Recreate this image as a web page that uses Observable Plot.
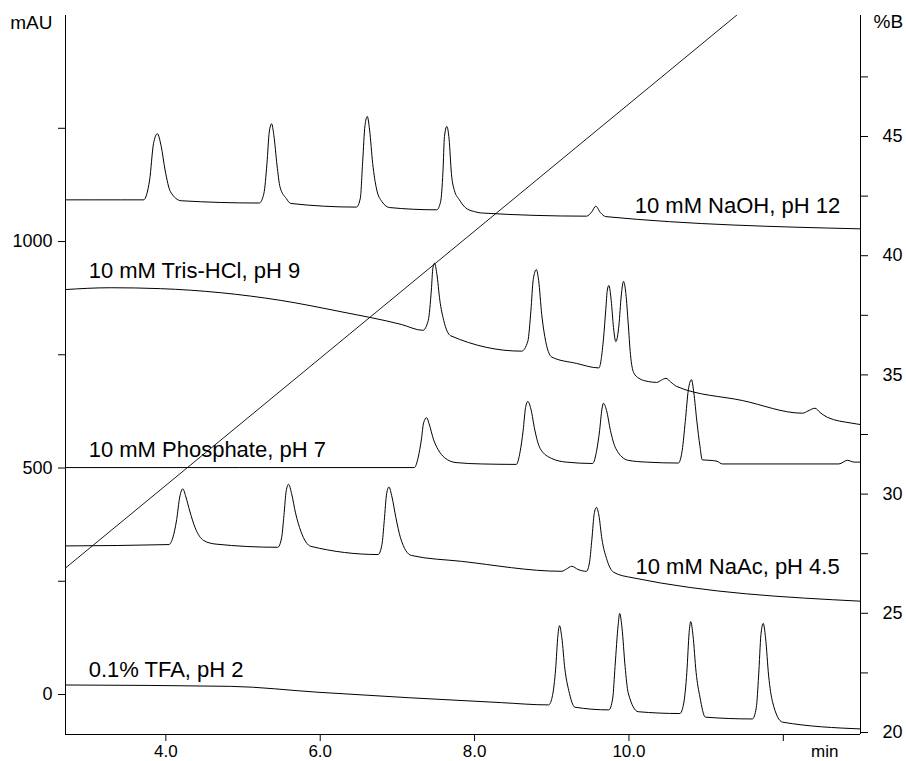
<!DOCTYPE html>
<html><head><meta charset="utf-8">
<script src="https://cdn.jsdelivr.net/npm/d3@7"></script>
<script src="https://cdn.jsdelivr.net/npm/@observablehq/plot@0.6"></script>
<style>body{margin:0;background:#fff}</style>
</head><body><div id="chart"></div>
<script>
// ---- data: [time (min), absorbance (mAU)] ----
const naoh = [[2.70,1092],[3.41,1092],[3.71,1092],[3.79,1136],[3.84,1216],[3.89,1238],[3.94,1210],[3.99,1158],[4.06,1110],[4.20,1090],
  [5.21,1085],[5.27,1106],[5.31,1172],[5.34,1242],[5.37,1260],[5.40,1234],[5.44,1169],[5.48,1120],[5.56,1095],[5.62,1084],
  [6.47,1076],[6.52,1096],[6.55,1176],[6.58,1256],[6.61,1276],[6.64,1246],[6.68,1172],[6.73,1116],[6.80,1088],[6.90,1075],
  [7.51,1070],[7.56,1088],[7.59,1153],[7.61,1232],[7.64,1254],[7.67,1226],[7.70,1150],[7.74,1112],[7.80,1093],[7.88,1075],[8.00,1066],[8.09,1063],
  [9.45,1056],[9.52,1066],[9.57,1078],[9.63,1064],[9.70,1055],[13.0,1028]];
const tris = [[2.70,894],[3.28,898],[3.93,896],[4.71,887],[5.49,870],[6.27,845],[7.05,817],[7.33,804],
  [7.40,826],[7.44,893],[7.46,942],[7.48,952],[7.51,930],[7.55,870],[7.60,826],[7.69,792],
  [8.61,758],[8.69,780],[8.73,848],[8.76,916],[8.80,938],[8.83,914],[8.87,839],[8.91,790],[9.00,745],[9.32,731],[9.61,721],
  [9.67,785],[9.70,850],[9.72,893],[9.74,903],[9.77,870],[9.80,810],[9.83,779],[9.87,815],[9.90,880],[9.93,912],[9.96,885],[9.99,820],[10.02,750],[10.06,711],[10.13,698],[10.25,691],
  [10.36,689],[10.42,694],[10.48,698],[10.54,690],[10.62,680],[11.47,649],[12.25,621],[12.32,626],[12.41,632],[12.48,622],[12.57,612],[12.89,599],[13.0,596]];
const phosphate = [[2.70,501],[7.22,501],[7.27,524],[7.31,562],[7.34,600],[7.38,611],[7.41,598],[7.47,562],[7.53,540],[7.61,523],[7.76,512],[8.09,509],[8.54,508],
  [8.59,536],[8.63,584],[8.66,633],[8.69,647],[8.73,630],[8.78,584],[8.85,543],[9.00,521],[9.19,513],[9.53,510],
  [9.58,537],[9.62,583],[9.65,630],[9.67,643],[9.71,627],[9.76,583],[9.83,543],[9.99,517],[10.23,513],[10.64,511],
  [10.69,539],[10.73,603],[10.77,673],[10.81,695],[10.84,667],[10.88,603],[10.92,548],[10.95,518],[11.05,517],[11.14,515],[11.21,509],[12.72,509],[12.83,517],[12.92,513],[13.0,513]];
const naac = [[2.70,328],[4.04,331],[4.09,346],[4.14,386],[4.18,436],[4.22,454],[4.26,436],[4.31,405],[4.38,368],[4.49,340],[4.65,332],[5.45,325],
  [5.50,346],[5.53,395],[5.56,450],[5.59,464],[5.63,443],[5.68,401],[5.75,360],[5.88,327],[6.75,309],
  [6.80,331],[6.83,384],[6.86,443],[6.89,458],[6.93,436],[6.98,391],[7.04,346],[7.18,307],[7.83,294],
  [9.13,272],[9.19,277],[9.26,283],[9.34,276],[9.45,272],
  [9.49,293],[9.52,343],[9.55,399],[9.58,413],[9.61,396],[9.65,343],[9.71,300],[9.80,270],[10.04,258],[13.0,206]];
const tfa = [[2.70,21],[4.84,18],[5.97,5],[8.35,-18],[8.96,-23],
  [9.01,-2],[9.05,56],[9.08,131],[9.10,152],[9.13,126],[9.17,56],[9.22,9],[9.30,-28],[9.74,-34],
  [9.79,-8],[9.82,62],[9.86,153],[9.88,179],[9.91,147],[9.95,62],[9.99,4],[10.12,-38],[10.66,-42],
  [10.71,-19],[10.75,49],[10.78,137],[10.80,161],[10.83,130],[10.87,49],[10.92,-6],[10.99,-50],[11.60,-54],
  [11.65,-29],[11.68,41],[11.71,132],[11.74,157],[11.77,125],[11.81,41],[11.86,-16],[11.99,-61],[13.0,-76]];
// gradient: [time (min), %B]
const gradient = [[2.70,26.9],[11.40,50.1]];
const traceNames = ["10 mM NaOH, pH 12","10 mM Tris-HCl, pH 9","10 mM Phosphate, pH 7","10 mM NaAc, pH 4.5","0.1% TFA, pH 2"];
// tick values
const xTicks = [4, 6, 8, 10, 12];
const xLabeled = [4, 6, 8, 10];
const leftTicks = [0, 250, 500, 750, 1000, 1250];
const leftLabeled = [0, 500, 1000];
const rightTicks = [20, 22.5, 25, 27.5, 30, 32.5, 35, 37.5, 40, 42.5, 45, 47.5];
const rightLabeled = [20, 25, 30, 35, 40, 45];

// ---- scales / layout ----
const xDomain = [2.7, 13.0];
const yDomain = [-88.3, 1499];
// %B axis shares the plot: 20 %B <-> -83.9 mAU, 45 %B <-> 1231.9 mAU
const toMAU = b => -83.9 + (b - 20) * 52.63;
const toB = m => 20 + (m + 83.9) / 52.63;

const series = [naoh, tris, phosphate, naac, tfa];
const rows = series.flatMap((pts, i) => pts.map(([t, a]) => ({name: traceNames[i], t, a})));
const labelPos = [[10.075, 1064], [3.0, 919], [3.0, 524], [10.085, 265], [3.0, 39]];
const labels = traceNames.map((name, i) => ({name, t: labelPos[i][0], a: labelPos[i][1]}));

const font = "'Liberation Sans', Arial, Helvetica, sans-serif";

const chart = Plot.plot({
  width: 906, height: 761,
  marginLeft: 65, marginRight: 46, marginTop: 15, marginBottom: 27,
  style: {fontFamily: font, background: "#fff", color: "#000"},
  x: {domain: xDomain, axis: null},
  y: {domain: yDomain, axis: null},
  marks: [
    Plot.ruleX(xDomain, {stroke: "#000", strokeWidth: 1}),
    Plot.ruleY([yDomain[0]], {stroke: "#000", strokeWidth: 1}),
    Plot.axisY({anchor: "left", ticks: leftTicks, tickFormat: d => leftLabeled.includes(d) ? String(d) : "",
      tickSize: 7, tickPadding: 6, fontSize: 18, label: null}),
    Plot.axisY({anchor: "right", ticks: rightTicks.map(toMAU),
      tickFormat: d => { const b = Math.round(toB(d) * 10) / 10; return rightLabeled.includes(b) ? String(b) : ""; },
      tickSize: 7, tickPadding: 15, fontSize: 18, label: null}),
    Plot.axisX({anchor: "bottom", ticks: xTicks, tickFormat: d => xLabeled.includes(d) ? d.toFixed(1) : "",
      tickSize: 7, tickPadding: 3, fontSize: 17, label: null}),
    Plot.line(gradient, {x: d => d[0], y: d => toMAU(d[1]), stroke: "#000", strokeWidth: 0.9, clip: true}),
    Plot.line(rows, {x: "t", y: "a", z: "name", curve: "monotone-x", stroke: "#000", strokeWidth: 1, clip: true}),
    Plot.text(labels, {x: "t", y: "a", text: "name", textAnchor: "start", lineAnchor: "bottom", fontSize: 22, fill: "#000"}),
    Plot.text(["mAU"], {frameAnchor: "top-left", text: d => d, textAnchor: "end", lineAnchor: "bottom", dx: -13, dy: 13, fontSize: 19}),
    Plot.text(["%B"], {frameAnchor: "top-right", text: d => d, textAnchor: "start", lineAnchor: "bottom", dx: 13, dy: 12, fontSize: 19}),
    Plot.text(["min"], {frameAnchor: "bottom-right", text: d => d, textAnchor: "end", lineAnchor: "bottom", dx: -22, dy: 22, fontSize: 17})
  ]
});
document.getElementById("chart").appendChild(chart);
</script>
</body></html>
